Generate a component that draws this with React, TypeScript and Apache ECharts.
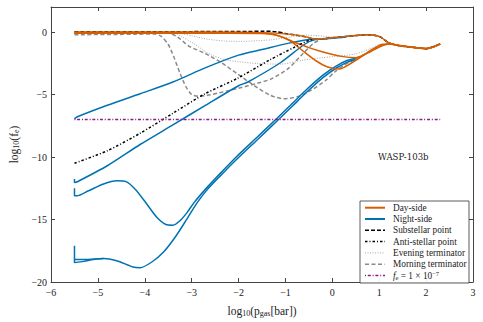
import React, { useEffect, useRef } from 'react';
import * as echarts from 'echarts';

type P = [number, number][];

// Axis settings (values)
const xRange = [-6, 3];
const yRange = [-20, 2];
const xStep = 1;
const yStep = 5;

const legendLabels = [
  'Day-side',
  'Night-side',
  'Substellar point',
  'Anti-stellar point',
  'Evening terminator',
  'Morning terminator',
  'fe = 1e-7',
];

// Day-side profiles (orange)
const daySide1: P = [[-5.5,0],[-4,0],[-3,0],[-2,-0.02],[-1.5,-0.05],[-1.0,-0.15],[-0.6,-0.35],[-0.35,-0.58],[-0.1,-0.5],[0.3,-0.35],[0.75,-0.22],[1.0,-0.35],[1.2,-0.85],[1.4,-1.08],[1.7,-1.22],[2.0,-1.33],[2.15,-1.2],[2.3,-0.95]];
const daySide2: P = [[-5.5,-0.05],[-3,-0.05],[-1.5,-0.08],[-1.15,-0.3],[-0.85,-0.75],[-0.5,-1.25],[-0.2,-1.6],[0.2,-1.95],[0.5,-2.05],[0.8,-1.6],[1.0,-1.2],[1.2,-0.95],[1.4,-1.06],[1.7,-1.21],[2.0,-1.32],[2.15,-1.2],[2.3,-0.95]];
const daySide3: P = [[-5.5,-0.1],[-3,-0.1],[-1.5,-0.12],[-1.2,-0.25],[-0.9,-0.7],[-0.6,-1.6],[-0.35,-2.3],[-0.1,-2.8],[0.15,-2.95],[0.4,-2.5],[0.65,-1.9],[0.85,-1.4],[1.05,-1.0],[1.25,-0.95],[1.4,-1.07],[1.7,-1.23],[2.0,-1.34],[2.15,-1.21],[2.3,-0.96]];

// Night-side profiles (blue)
const nightSide1: P = [[-5.5,-6.95],[-5.45,-6.8],[-4.8,-5.86],[-4.1,-4.94],[-3.4,-4.0],[-2.7,-2.85],[-2.0,-1.85],[-1.5,-1.4],[-0.9,-0.87],[-0.5,-0.6],[0,-0.5],[0.3,-0.4]];
const nightSide2: P = [[-5.5,-11.75],[-5.5,-12.05],[-5.45,-12.0],[-4.8,-10.7],[-4.1,-9.0],[-3.4,-7.43],[-2.7,-5.85],[-2.0,-4.3],[-1.8,-4.0],[-1.1,-2.44],[-0.6,-1.0],[-0.4,-0.65],[-0.1,-0.55]];
const nightSide3: P = [[-5.5,-12.5],[-5.5,-13.1],[-5.45,-13.1],[-5.2,-12.7],[-4.88,-12.16],[-4.6,-11.9],[-4.4,-11.97],[-4.2,-12.6],[-3.97,-13.7],[-3.75,-14.8],[-3.55,-15.4],[-3.4,-15.45],[-3.25,-15.1],[-3.1,-14.45],[-2.95,-13.65],[-2.7,-12.55],[-2.4,-11.35],[-2.05,-10.0],[-1.6,-8.4],[-1.18,-6.9],[-0.85,-5.7],[-0.55,-4.6],[-0.2,-3.45],[0.07,-2.75],[0.3,-2.3],[0.5,-2.1]];
const nightSide4: P = [[-5.5,-17.1],[-5.5,-18.45],[-5.3,-18.35],[-5.1,-18.2],[-4.88,-18.12],[-4.6,-18.3],[-4.25,-18.8],[-4.1,-18.85],[-3.85,-18.4],[-3.6,-17.6],[-3.35,-16.4],[-3.1,-14.95],[-2.9,-13.75],[-2.7,-12.75],[-2.4,-11.55],[-2.05,-10.22],[-1.6,-8.62],[-1.18,-7.12],[-0.85,-5.92],[-0.55,-4.82],[-0.2,-3.65],[0.07,-2.92],[0.3,-2.45],[0.5,-2.2]];
const nightSide5: P = [[-5.5,-18.2],[-5.25,-18.2],[-5.0,-18.15],[-4.88,-18.12]];

// Substellar / anti-stellar points (black)
const substellar: P = [[-5.5,0.03],[-3,0.03],[-1.8,0.04],[-1.5,0.07],[-1.2,0.02],[-1.0,-0.12],[-0.6,-0.36],[-0.35,-0.58],[-0.1,-0.5],[0.3,-0.35],[0.75,-0.22],[1.0,-0.35],[1.2,-0.85],[1.4,-1.08],[1.7,-1.22],[2.0,-1.33],[2.3,-0.95]];
const antistellar: P = [[-5.5,-10.5],[-4.8,-9.5],[-4.1,-8.1],[-3.4,-6.5],[-2.72,-4.95],[-2.02,-3.7],[-1.32,-2.2],[-0.83,-1.26],[-0.55,-0.74],[-0.4,-0.58]];

// Terminators (gray)
const evening1: P = [[-5.5,-0.02],[-3.5,-0.03],[-3.2,-0.15],[-3.0,-0.3],[-2.65,-0.58],[-2.3,-0.72],[-2.0,-0.75],[-1.6,-0.7],[-1.3,-0.62],[-0.9,-0.4],[-0.6,-0.25],[-0.3,-0.3],[0,-0.4],[0.4,-0.3],[0.75,-0.2],[1.0,-0.35],[1.2,-0.85],[1.4,-1.05],[1.7,-1.2],[2.0,-1.3],[2.3,-0.95]];
const evening2: P = [[-5.5,-0.05],[-3.4,-0.06],[-3.2,-0.4],[-2.95,-0.95],[-2.6,-1.8],[-2.3,-2.2],[-2.0,-2.38],[-1.6,-2.52],[-1.1,-2.57],[-0.62,-2.25],[-0.2,-2.05],[0.15,-1.92],[0.5,-1.75],[0.8,-1.35],[1.0,-1.0],[1.2,-0.95],[1.4,-1.08],[1.7,-1.22],[2.0,-1.33],[2.3,-0.96]];
const morning1: P = [[-5.5,-0.22],[-4.2,-0.18],[-3.8,-0.15],[-3.65,-0.35],[-3.5,-1.0],[-3.38,-2.0],[-3.25,-3.3],[-3.12,-4.4],[-3.0,-5.0],[-2.85,-5.15],[-2.6,-5.02],[-2.0,-4.5],[-1.6,-4.1],[-1.3,-3.75],[-0.95,-2.95],[-0.62,-1.7],[-0.4,-0.9],[-0.2,-0.55],[0.1,-0.45],[0.4,-0.32],[0.75,-0.22],[1.0,-0.37],[1.2,-0.87],[1.4,-1.07],[1.7,-1.21],[2.0,-1.32],[2.3,-0.96]];
const morning2: P = [[-5.5,-0.12],[-3.5,-0.1],[-3.3,-0.4],[-3.06,-1.13],[-2.72,-1.7],[-2.37,-2.45],[-2.02,-3.36],[-1.67,-4.28],[-1.32,-5.07],[-1.04,-5.33],[-0.76,-5.2],[-0.45,-4.65],[-0.15,-3.9],[0.05,-3.2],[0.25,-2.65],[0.45,-2.25],[0.7,-1.75],[0.9,-1.35],[1.1,-1.0],[1.25,-0.95],[1.4,-1.07],[1.7,-1.22],[2.0,-1.33],[2.3,-0.96]];

// Threshold f_e = 1e-7
const feThreshold: P = [[-5.5,-7],[2.3,-7]];

const planetName = 'WASP-103b';

const FONT = "'Liberation Serif', 'DejaVu Serif', serif";
const WIDE_FONT = "'DejaVu Serif', 'Liberation Serif', serif";
const AXIS_COLOR = '#444';
const TEXT_COLOR = '#222';

type Sty = { color: string; width: number; dash: number[] | null };
const styles: Sty[] = [
  { color: '#D55E00', width: 1.5, dash: null },
  { color: '#0072B2', width: 1.5, dash: null },
  { color: '#000000', width: 1.5, dash: [4, 2] },
  { color: '#000000', width: 1.5, dash: [2.5, 2, 1, 2] },
  { color: '#a8a8a8', width: 1, dash: [1, 1.5] },
  { color: '#8a8a8a', width: 1.5, dash: [4, 2.5] },
  { color: '#8B1C8B', width: 1.5, dash: [1, 1.8, 3, 1.8] },
];

const minus = (v: number) => (v < 0 ? '\u2212' + Math.abs(v) : String(v));

export default function App() {
  const ref = useRef<HTMLDivElement>(null);
  useEffect(() => {
    if (!ref.current) return;
    const chart = echarts.init(ref.current, undefined, { renderer: 'svg' });

    const mk = (k: number, data: P, z: number) => {
      const s = styles[k];
      return {
        name: legendLabels[k],
        type: 'line',
        data,
        symbol: 'none',
        showSymbol: false,
        smooth: 0.25,
        z,
        lineStyle: { color: s.color, width: s.width, type: s.dash ?? 'solid' },
        itemStyle: { color: s.color },
        emphasis: { disabled: true },
      };
    };

    const series: any[] = [
      mk(4, evening1, 2),
      mk(4, evening2, 2),
      mk(5, morning1, 3),
      mk(5, morning2, 3),
      mk(2, substellar, 4),
      mk(1, nightSide1, 5),
      mk(1, nightSide2, 5),
      mk(1, nightSide3, 5),
      mk(1, nightSide4, 5),
      mk(1, nightSide5, 5),
      mk(0, daySide1, 6),
      mk(0, daySide2, 6),
      mk(0, daySide3, 6),
      mk(3, antistellar, 7),
      mk(6, feThreshold, 7),
    ];

    // Legend drawn as graphic elements
    const lgX = 360, lgY = 201, lgW = 109, lgH = 82, rowH = 11.3;
    const legendGraphics: any[] = [
      {
        type: 'rect', z: 100,
        shape: { x: lgX, y: lgY, width: lgW, height: lgH },
        style: { fill: 'rgba(255,255,255,0.92)', stroke: '#333', lineWidth: 0.8 },
      },
    ];
    legendLabels.forEach((lab, i) => {
      const y = lgY + 6.7 + i * rowH;
      const s = styles[i];
      legendGraphics.push({
        type: 'line', z: 101,
        shape: { x1: lgX + 5, y1: y, x2: lgX + 25, y2: y },
        style: { stroke: s.color, lineWidth: i < 2 ? 2 : s.width, lineDash: s.dash ?? undefined },
      });
      legendGraphics.push({
        type: 'text', z: 101, x: lgX + 33, y,
        style: {
          text: i === 6 ? '{i|f}{s|e} = 1 \u00d7 10{u|\u22127}' : lab,
          fontFamily: FONT, fontSize: 9.3, fill: TEXT_COLOR, verticalAlign: 'middle',
          rich: {
            i: { fontFamily: FONT, fontSize: 9.3, fontStyle: 'italic', fill: TEXT_COLOR },
            s: { fontFamily: FONT, fontSize: 6.5, fill: TEXT_COLOR, padding: [4, 0, 0, 0] },
            u: { fontFamily: FONT, fontSize: 6.5, fill: TEXT_COLOR, padding: [0, 0, 4, 0] },
          },
        },
      });
    });

    const tickStyle = { show: true, inside: true, length: 4, lineStyle: { color: AXIS_COLOR, width: 1 } };
    const lineStyle = { show: true, onZero: false, lineStyle: { color: AXIS_COLOR, width: 1 } };
    const nameRich = { s: { fontFamily: FONT, fontSize: 8, color: TEXT_COLOR, padding: [5, 0, 0, 0] } };

    chart.setOption({
      animation: false,
      backgroundColor: '#fff',
      grid: { left: 43, right: 10, top: 7, bottom: 36, containLabel: false },
      xAxis: [
        {
          type: 'value', min: xRange[0], max: xRange[1], interval: xStep, position: 'bottom',
          axisLine: lineStyle, axisTick: tickStyle, splitLine: { show: false },
          axisLabel: { formatter: minus, color: TEXT_COLOR, fontSize: 10, fontFamily: FONT, margin: 5, showMinLabel: true, showMaxLabel: true },
          name: 'log{s|10}(p{s|gas}[bar])', nameLocation: 'middle', nameGap: 22,
          nameTextStyle: { fontFamily: FONT, fontSize: 11.5, color: TEXT_COLOR, rich: nameRich },
        },
        {
          type: 'value', min: xRange[0], max: xRange[1], interval: xStep, position: 'top',
          axisLine: lineStyle, axisTick: tickStyle, splitLine: { show: false }, axisLabel: { show: false },
        },
      ],
      yAxis: [
        {
          type: 'value', min: yRange[0], max: yRange[1], interval: yStep, position: 'left',
          axisLine: lineStyle, axisTick: tickStyle, splitLine: { show: false },
          axisLabel: {
            formatter: (v: number) => (v % yStep === 0 ? minus(v) : ''), color: TEXT_COLOR, fontSize: 10, fontFamily: FONT, margin: 4,
          },
          name: 'log{s|10}(f{s|e})', nameLocation: 'middle', nameGap: 28,
          nameTextStyle: { fontFamily: FONT, fontSize: 11.5, color: TEXT_COLOR, rich: nameRich },
        },
        {
          type: 'value', min: yRange[0], max: yRange[1], interval: yStep, position: 'right',
          axisLine: lineStyle, axisTick: tickStyle, splitLine: { show: false }, axisLabel: { show: false },
        },
      ],
      graphic: [
        {
          type: 'text', left: 378, top: 152, z: 100,
          style: { text: planetName, fontFamily: WIDE_FONT, fontSize: 8.6, fill: TEXT_COLOR },
        },
        ...legendGraphics,
      ],
      series,
    });
    return () => chart.dispose();
  }, []);
  return <div ref={ref} style={{ position: 'fixed', left: 0, top: 0, width: 483, height: 322 }} />;
}
